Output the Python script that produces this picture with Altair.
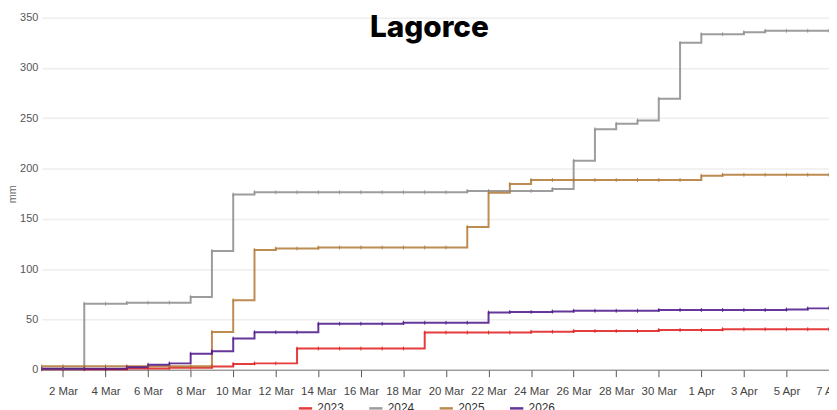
import altair as alt
import pandas as pd

# Daily dates (1 Mar .. 7 Apr)
dates = pd.date_range("2026-03-01", "2026-04-07", freq="D")

years = ["2023", "2024", "2025", "2026"]
colors = ["#e01b1b", "#8c8c8c", "#b07835", "#4a1488"]

# cumulative rainfall (mm), one value per day
v2023 = [0.5, 0.5, 0.5, 0.5, 1.2, 1.2, 2.0, 2.0, 3.3, 5.6, 6.3, 6.3, 21.2, 21.2, 21.2, 21.2, 21.2, 21.2,
         37.0, 37.0, 37.0, 37.0, 37.0, 37.8, 37.8, 38.6, 38.6, 38.6, 38.6, 39.6, 39.6, 39.6, 40.3, 40.3,
         40.3, 40.3, 40.3, 40.3]
v2024 = [1.0, 1.0, 65.5, 65.5, 66.7, 66.7, 66.7, 72.4, 118.0, 174.2, 176.5, 176.5, 176.5, 176.5, 176.5,
         176.5, 176.5, 176.5, 176.5, 176.5, 177.8, 177.8, 177.8, 177.8, 179.8, 207.7, 239.0, 244.5, 247.8,
         269.5, 325.0, 333.6, 333.6, 335.6, 337.0, 337.0, 337.0, 337.0]
v2025 = [3.5, 3.5, 3.5, 3.5, 3.5, 3.5, 3.5, 3.5, 37.5, 69.0, 119.0, 120.5, 120.5, 121.5, 121.5, 121.5,
         121.5, 121.5, 121.5, 121.5, 142.0, 175.9, 184.7, 188.7, 188.7, 188.7, 188.7, 188.7, 188.7, 188.7,
         188.7, 192.9, 193.9, 193.9, 193.9, 193.9, 193.9, 193.9]
v2026 = [1.0, 1.0, 1.0, 1.0, 2.4, 5.0, 6.3, 15.8, 18.4, 31.0, 37.2, 37.2, 37.2, 45.7, 45.7, 45.7, 45.7,
         46.7, 46.7, 46.7, 46.7, 56.8, 57.3, 57.3, 57.9, 58.6, 58.6, 58.6, 58.6, 59.3, 59.3, 59.3, 59.3,
         59.3, 59.3, 59.8, 61.0, 61.5]

series = dict(zip(years, [v2023, v2024, v2025, v2026]))
rows = []
for y, vals in series.items():
    for d, v in zip(dates, vals):
        rows.append({"date": d.strftime("%Y-%m-%d"), "mm": v, "year": y})
df = pd.DataFrame(rows)

tick_dates = pd.date_range("2026-03-02", "2026-04-07", freq="2D")
tick_ms = [int(t.value // 10**6) for t in tick_dates]
dom = [int(pd.Timestamp("2026-03-01").value // 10**6), int(pd.Timestamp("2026-04-07").value // 10**6)]

x = alt.X("date:T", scale=alt.Scale(type="utc", domain=dom, nice=False),
          axis=alt.Axis(values=tick_ms, labelExpr="utcFormat(datum.value, '%-d %b')", title=None,
                        grid=False, tickSize=7, labelPadding=9, labelFontSize=11.5, labelColor="#444",
                        domainColor="#777", tickColor="#555", labelOverlap=False, labelFlush=False))
y = alt.Y("mm:Q", scale=alt.Scale(domain=[0, 350], nice=False),
          axis=alt.Axis(values=[0, 50, 100, 150, 200, 250, 300, 350], title="mm", titleFontSize=11,
                        titleFontWeight="normal", titleColor="#666", titlePadding=2, domain=False,
                        ticks=False, labelPadding=4, labelFontSize=11, labelColor="#555",
                        gridColor="#eeeeee", gridWidth=1.5))
color = alt.Color("year:N", scale=alt.Scale(domain=years, range=colors),
                  legend=alt.Legend(title=None, orient="none", legendX=258, legendY=386, direction="horizontal",
                                    symbolType="stroke", symbolSize=180, symbolStrokeWidth=2.5,
                                    labelFontSize=12, labelColor="#333", columnPadding=20))

lines = alt.Chart(df).mark_line(interpolate="step-after", strokeWidth=2, opacity=0.85).encode(x=x, y=y, color=color)
ticks = alt.Chart(df).mark_tick(orient="vertical", size=4, thickness=1, opacity=0.8).encode(
    x="date:T", y="mm:Q", color=alt.Color("year:N", legend=None))

chart = alt.layer(lines, ticks).properties(
    width=794, height=355,
    title=alt.TitleParams("Lagorce", anchor="middle", font="Inter", fontSize=30, fontWeight=800,
                          color="#000", dy=35, dx=-6),
    autosize=alt.AutoSizeParams(type="none"),
    padding={"left": 34, "top": 8, "right": 0, "bottom": 60},
).configure_view(stroke=None).configure_axis(labelFont="Liberation Sans", titleFont="Liberation Sans"
).configure_legend(labelFont="Liberation Sans")

chart.save("out.html", embed_options={"renderer": "svg", "actions": False})
